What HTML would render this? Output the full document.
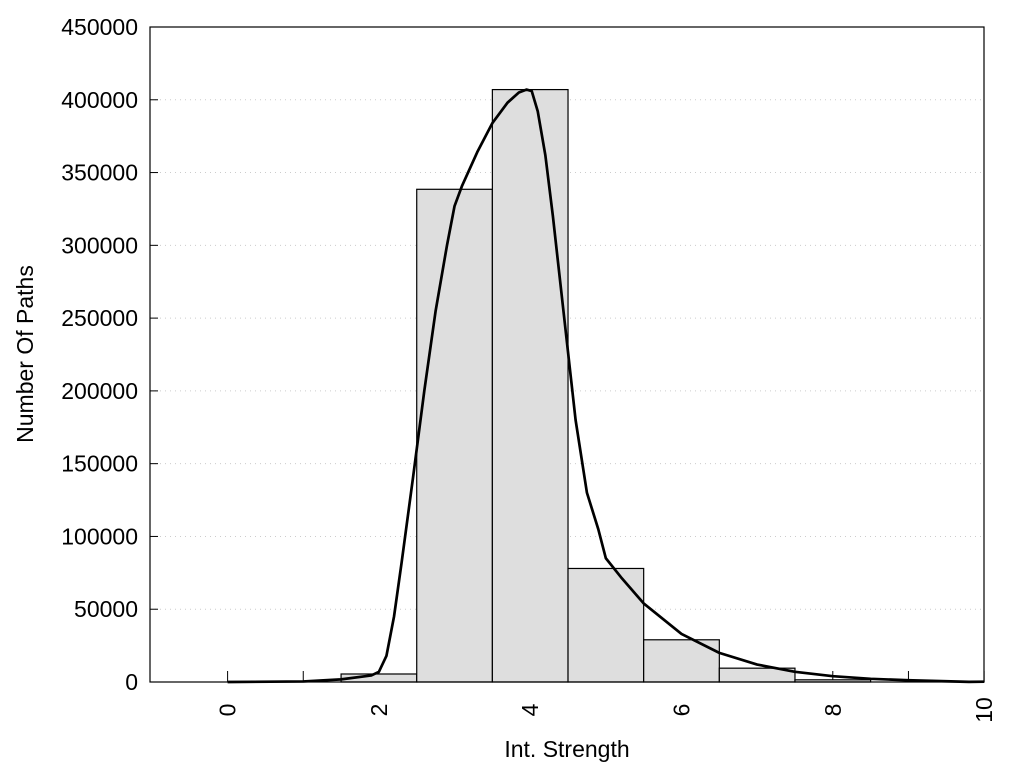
<!DOCTYPE html>
<html><head><meta charset="utf-8"><style>
body{margin:0;background:#fff;}
svg text{font-family:"Liberation Sans",sans-serif;font-size:23px;fill:#000;}
</style></head><body>
<svg id="s" width="1024" height="768" xmlns="http://www.w3.org/2000/svg"></svg>
<script>
const s=document.getElementById('s');
const X=v=>227.6+75.65*v, Y=n=>682-n*655/450000;
let h='';
for(let k=1;k<=8;k++){const y=Y(k*50000);h+=`<line x1="150" x2="984" y1="${y}" y2="${y}" stroke="#ccc" stroke-dasharray="1,4"/>`;}
for(let k=0;k<=9;k++){const y=Y(k*50000);h+=`<line x1="150" x2="158" y1="${y}" y2="${y}" stroke="#000"/><text x="138" y="${y+8}" text-anchor="end">${k*50000}</text>`;}
for(let v=0;v<=10;v++){h+=`<line x1="${X(v)}" x2="${X(v)}" y1="682" y2="671" stroke="#000"/>`;}
const bars=[[2,5500],[3,338500],[4,407000],[5,78000],[6,29000],[7,9500],[8,1500]];
for(const [c,n] of bars){const x=X(c-0.5);h+=`<rect x="${x}" y="${Y(n)}" width="75.65" height="${682-Y(n)}" fill="#dedede" stroke="#000" stroke-width="1.2"/>`;}
const pts=[[0,0],[1,400],[1.5,1800],[1.9,4500],[2.0,7000],[2.1,18000],[2.2,45000],[2.3,82000],[2.45,140000],[2.6,200000],[2.75,255000],[2.9,300000],[3.0,327000],[3.1,341000],[3.3,364000],[3.5,384000],[3.7,398000],[3.85,405000],[3.95,407000],[4.02,406000],[4.1,392000],[4.2,362000],[4.3,320000],[4.45,250000],[4.6,180000],[4.75,130000],[4.9,105000],[5.0,85000],[5.2,72000],[5.5,54000],[6.0,33000],[6.5,20000],[7.0,12000],[7.5,7000],[8,4000],[8.5,2200],[9,1200],[9.5,500],[9.8,100],[10,200]];
h+=`<polyline fill="none" stroke="#000" stroke-width="2.7" stroke-linejoin="round" points="${pts.map(p=>X(p[0])+','+Y(p[1])).join(' ')}"/>`;
h+=`<rect x="150" y="27" width="834" height="655" fill="none" stroke="#000" stroke-width="1.2"/>`;
for(let v=0;v<=10;v+=2){h+=`<text transform="translate(${X(v)+8},710) rotate(-90)" text-anchor="middle">${v}</text>`;}
h+=`<text x="567" y="757" text-anchor="middle">Int. Strength</text>`;
h+=`<text transform="translate(33,354) rotate(-90)" text-anchor="middle">Number Of Paths</text>`;
s.innerHTML=h;
</script>
</body></html>
